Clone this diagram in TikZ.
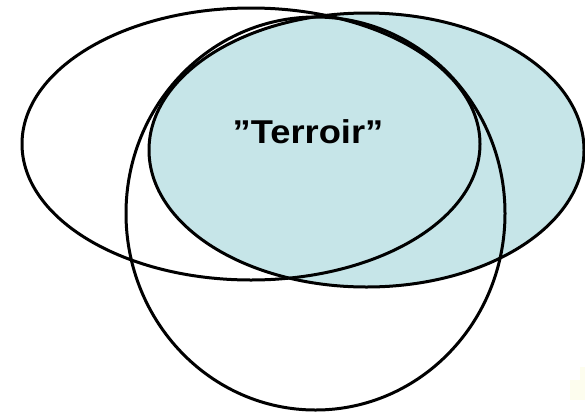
\documentclass[tikz,border=0pt]{standalone}
\usepackage{fontspec}
\setmainfont{Liberation Sans}
\definecolor{terroirfill}{RGB}{198,229,232}
\definecolor{creamspot}{RGB}{253,253,238}
\begin{document}
\begin{tikzpicture}[x=1pt,y=-1pt,
  ring/.style={draw=black,line width=3pt},
  label/.style={font=\fontsize{33}{38}\selectfont\bfseries,inner sep=0pt,xscale=1.1}]
\useasboundingbox (0,0) rectangle (585,413);
\fill[white] (0,0) rectangle (585,413);
\fill[creamspot] (570,380) rectangle (585,400);
\fill[creamspot] (580,367) rectangle (585,380);
% filled right ellipse
\fill[terroirfill] (366.5,150) ellipse [x radius=217.5, y radius=137];
% outlines
\draw[ring] (366.5,150) ellipse [x radius=217.5, y radius=137];
\draw[ring] (251,144) ellipse [x radius=229, y radius=136];
\draw[ring] (315.5,213.5) ellipse [x radius=189.5, y radius=196.5];
\node[label] (terroir) at (308,132) {”Terroir”};
\end{tikzpicture}
\end{document}
